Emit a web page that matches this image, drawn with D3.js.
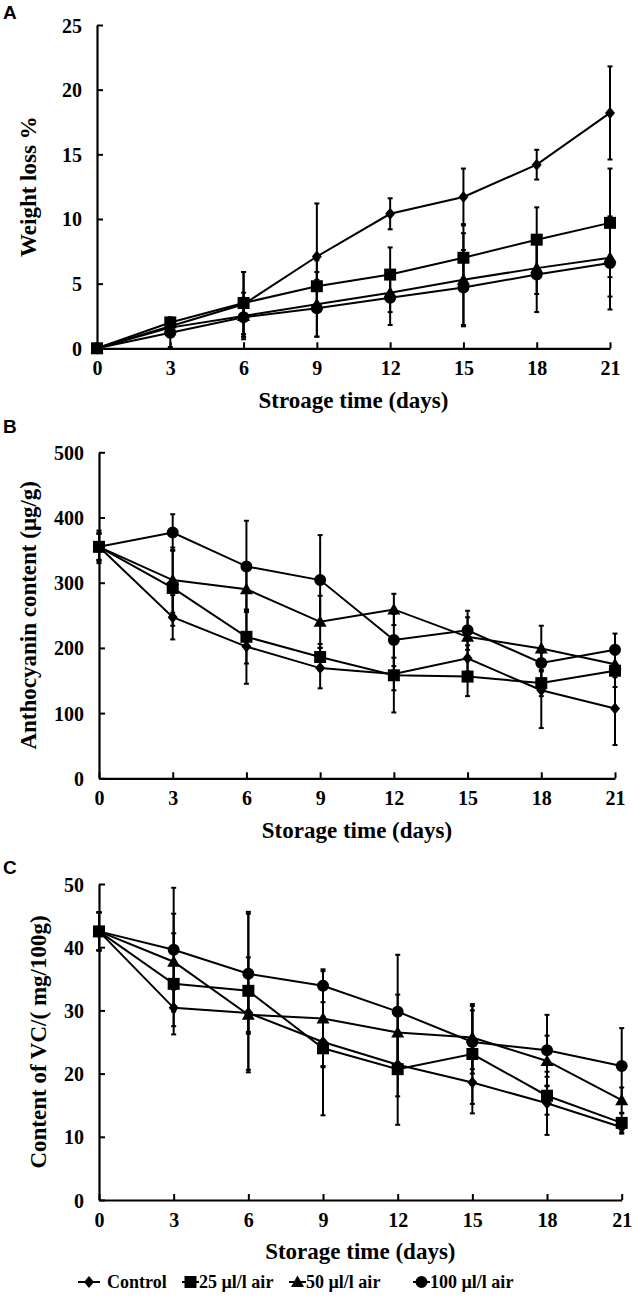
<!DOCTYPE html>
<html><head><meta charset="utf-8">
<script src="https://cdn.jsdelivr.net/npm/d3@7"></script>
<style>body{margin:0;background:#fff}svg{display:block}</style>
</head><body>
<script>
const days = [0,3,6,9,12,15,18,21];
const seriesNames = ["Control","25 µl/l air","50 µl/l air","100 µl/l air"];
const seriesShapes = ["diamond","square","triangle","circle"];

// Panel A: weight loss %
const weightControl = [0,1.7,3.4,7.1,10.4,11.7,14.2,18.2];
const weight25 = [0,2.0,3.5,4.8,5.7,7.0,8.4,9.7];
const weight50 = [0,1.6,2.5,3.4,4.3,5.3,6.2,7.0];
const weight100 = [0,1.2,2.4,3.1,3.9,4.7,5.7,6.6];
const weightControlSD = [0,0.5,2.5,4.1,1.2,2.2,1.15,3.6];
const weight25SD = [0,0.4,2.4,2.0,2.1,2.6,2.5,4.2];
const weight50SD = [0,0.5,1.8,2.5,1.5,3.6,2.0,3.0];
const weight100SD = [0,1.1,1.5,2.2,2.1,2.9,2.9,3.6];
const weightTicks = [0,5,10,15,20,25];

// Panel B: anthocyanin content
const anthoControl = [355,247,202,169,160,184,135,107];
const antho25 = [355,292,217,186,158,156,146,165];
const antho50 = [355,304,290,240,259,217,199,175];
const antho100 = [355,377,325,304,212,227,177,197];
const anthoControlSD = [20,34,57,31,25,20,58,56];
const antho25SD = [22,58,41,20,57,30,20,25];
const antho50SD = [20,50,35,40,24,30,35,20];
const antho100SD = [25,28,70,69,40,30,25,25];
const anthoTicks = [0,100,200,300,400,500];

// Panel C: VC content
const vcControl = [42.5,30.4,29.6,25.0,21.4,18.6,15.3,11.5];
const vc25 = [42.5,34.2,33.1,24.0,20.7,23.1,16.5,12.2];
const vc50 = [42.5,37.7,29.3,28.7,26.5,25.7,22.0,15.8];
const vc100 = [42.5,39.6,35.8,33.9,29.8,25.0,23.7,21.2];
const vcControlSD = [3,2.9,3,4,5,4.9,5,1];
const vc25SD = [3,8,12.5,10.6,8.8,7.9,3,1.5];
const vc50SD = [3,7.6,9.1,7.5,6,5,4,2];
const vc100SD = [3,9.8,9.5,2.6,9,5,5.6,6];
const vcTicks = [0,10,20,30,40,50];

const W = 633, H = 1301;
const svg = d3.select("body").append("svg").attr("width", W).attr("height", H);
const serif = "'Liberation Serif','Times New Roman',serif";
const sans = "'Liberation Sans',Arial,sans-serif";

function shapePath(shape) {
  if (shape === "diamond") return "M0,-6L5,0L0,6L-5,0Z";
  if (shape === "square") return "M-6,-6H6V6H-6Z";
  if (shape === "triangle") return "M0,-6.5L6.5,5L-6.5,5Z";
  return d3.symbol(d3.symbolCircle, 113)();
}

const panels = [
  {letter:"A", ly:19, x0:97, x1:610, yb:348.3, yt:25, max:25, ticks:weightTicks,
   ytitle:"Weight loss %", ytx:28, xtitle:"Stroage time (days)", xty:408,
   series:[weightControl,weight25,weight50,weight100],
   sd:[weightControlSD,weight25SD,weight50SD,weight100SD]},
  {letter:"B", ly:433, x0:99, x1:615, yb:778.3, yt:452.3, max:500, ticks:anthoTicks,
   ytitle:"Anthocyanin content (μg/g)", ytx:28, xtitle:"Storage time (days)", xty:838,
   series:[anthoControl,antho25,antho50,antho100],
   sd:[anthoControlSD,antho25SD,antho50SD,antho100SD]},
  {letter:"C", ly:874, x0:99, x1:621.7, yb:1200, yt:884, max:50, ticks:vcTicks,
   ytitle:"Content of VC/( mg/100g)", ytx:38, xtitle:"Storage time (days)", xty:1259,
   series:[vcControl,vc25,vc50,vc100],
   sd:[vcControlSD,vc25SD,vc50SD,vc100SD]}
];

panels.forEach(p => {
  const x = d3.scaleLinear().domain([0,21]).range([p.x0,p.x1]);
  const y = d3.scaleLinear().domain([0,p.max]).range([p.yb,p.yt]);
  const g = svg.append("g");

  g.append("text").attr("x",3).attr("y",p.ly).attr("font-family",sans)
    .attr("font-weight","bold").attr("font-size",19).text(p.letter);

  // axes
  const xa = g.append("g").attr("transform",`translate(0,${p.yb})`)
    .call(d3.axisBottom(x).tickValues(days).tickSizeInner(-6).tickSizeOuter(0).tickPadding(13));
  const ya = g.append("g").attr("transform",`translate(${p.x0},0)`)
    .call(d3.axisLeft(y).tickValues(p.ticks).tickSizeInner(-6).tickSizeOuter(0).tickPadding(15));
  [xa,ya].forEach(a => {
    a.select(".domain").attr("stroke","#000").attr("stroke-width",2.2);
    a.selectAll(".tick line").attr("stroke","#000").attr("stroke-width",2);
    a.selectAll(".tick text").attr("font-family",serif).attr("font-weight","bold")
      .attr("font-size",20).attr("fill","#000");
  });
  ya.selectAll(".tick text").attr("dy","0.35em");

  g.append("text").attr("transform",`translate(${p.ytx},${(p.yb+p.yt)/2}) rotate(-90)`)
    .attr("text-anchor","middle").attr("dy","0.35em").attr("font-family",serif)
    .attr("font-weight","bold").attr("font-size",23).text(p.ytitle);
  g.append("text").attr("x",(p.x0+p.x1)/2).attr("y",p.xty)
    .attr("text-anchor","middle").attr("font-family",serif)
    .attr("font-weight","bold").attr("font-size",23).text(p.xtitle);

  const line = d3.line().x((d,i)=>x(days[i])).y(d=>y(d));
  p.series.forEach((s,si) => {
    g.append("path").datum(s).attr("d",line).attr("fill","none")
      .attr("stroke","#000").attr("stroke-width",2);
  });
  p.series.forEach((s,si) => {
    s.forEach((v,i) => {
      const e = p.sd[si][i];
      if (!e) return;
      const cx = x(days[i]);
      g.append("line").attr("x1",cx).attr("x2",cx).attr("y1",y(v-e)).attr("y2",y(v+e))
        .attr("stroke","#000").attr("stroke-width",2);
      [v-e, v+e].forEach(t => g.append("line").attr("x1",cx-2.5).attr("x2",cx+2.5)
        .attr("y1",y(t)).attr("y2",y(t)).attr("stroke","#000").attr("stroke-width",2));
    });
  });
  p.series.forEach((s,si) => {
    g.selectAll(null).data(s).enter().append("path")
      .attr("d",shapePath(seriesShapes[si]))
      .attr("transform",(d,i)=>`translate(${x(days[i])},${y(d)})`)
      .attr("fill","#000");
  });
});

// legend
const legendX = [78, 182, 289, 413];
const legendLen = [22, 17, 17, 17];
const legendTextX = [107, 199, 306, 430];
const legY = 1282;
const lg = svg.append("g");
seriesNames.forEach((n,i) => {
  const lx = legendX[i];
  lg.append("line").attr("x1",lx).attr("x2",lx+legendLen[i]).attr("y1",legY).attr("y2",legY)
    .attr("stroke","#000").attr("stroke-width",2);
  lg.append("path").attr("d",shapePath(seriesShapes[i]))
    .attr("transform",`translate(${lx+legendLen[i]/2},${legY})`).attr("fill","#000");
  lg.append("text").attr("x",legendTextX[i]).attr("y",legY).attr("dy","0.35em")
    .attr("font-family",serif).attr("font-weight","bold").attr("font-size",18).text(n);
});
</script>
</body></html>
